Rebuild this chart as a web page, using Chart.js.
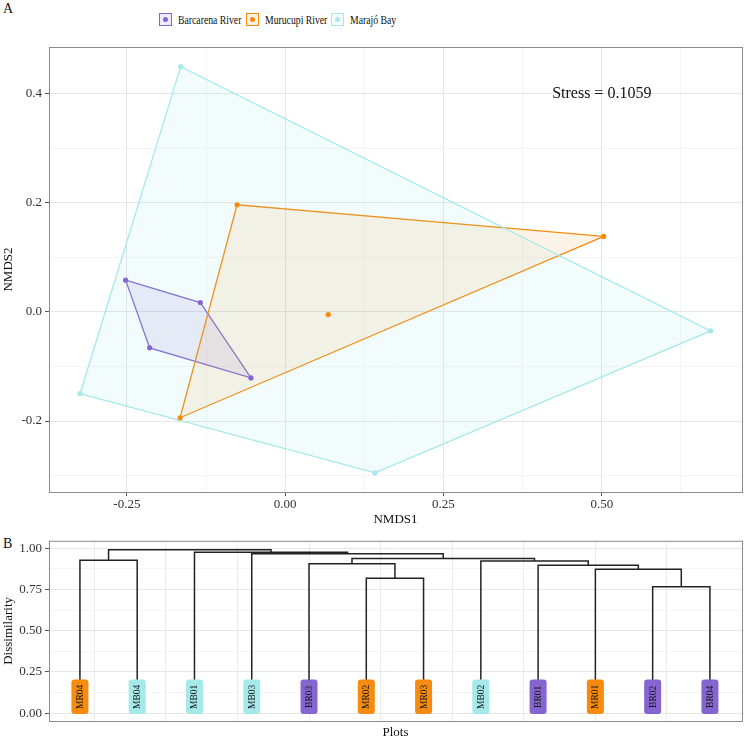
<!DOCTYPE html>
<html>
<head>
<meta charset="utf-8">
<script src="https://cdn.jsdelivr.net/npm/chart.js@4.4.1/dist/chart.umd.min.js"></script>
<style>
body { margin: 0; background: #fff; font-family: "Liberation Serif", serif; }
#wrap { position: relative; width: 746px; height: 740px; }
#chartA { position: absolute; left: 0; top: 0; }
#chartB { position: absolute; left: 0; top: 530px; }
.tag { position: absolute; font-size: 14px; color: #111; }
.key { position: absolute; top: 13px; width: 11px; height: 11px; border: 1px solid; }
.key span { position: absolute; width: 5px; height: 5px; border-radius: 50%; left: 3px; top: 3px; }
.lab { position: absolute; top: 12px; font-size: 13.5px; line-height: 16px; color: #111; white-space: nowrap; transform: scaleX(0.72); transform-origin: left center; }
</style>
</head>
<body>
<div id="wrap">
  <div class="tag" style="left:3px;top:1px">A</div>
  <div class="tag" style="left:3px;top:536px">B</div>
  <div id="legend"></div>
  <canvas id="chartA" width="746" height="530"></canvas>
  <canvas id="chartB" width="746" height="210"></canvas>
</div>
<script>
//groups and colours
const groups = ["Barcarena River", "Murucupi River", "Marajó Bay"];
const groupColors = ["#8565d0", "#f68b0f", "#a6e9ea"];
const groupFills = ["rgba(133,101,208,0.13)", "rgba(246,139,15,0.10)", "rgba(150,225,228,0.11)"];
//NMDS scores
const barcarenaX = [-0.252, -0.134, -0.214, -0.054];
const barcarenaY = [0.058, 0.017, -0.066, -0.121];
const murucupiX = [-0.076, 0.503, 0.068, -0.166];
const murucupiY = [0.196, 0.138, -0.005, -0.194];
const marajoX = [-0.165, 0.672, 0.142, -0.324];
const marajoY = [0.449, -0.035, -0.295, -0.150];
const stressText = "Stress = 0.1059";
//dendrogram (panel B), leaves in plotted order
const leafNames = ["MR04", "MB04", "MB01", "MB03", "BR03", "MR02", "MR03", "MB02", "BR01", "MR01", "BR02", "BR04"];
const mergeA = ["BR02", "MR02", "MR01", "BR01", "BR03", "MB02", "MR04", "m5", "MB03", "MB01", "m7"];
const mergeB = ["BR04", "MR03", "m1", "m3", "m2", "m4", "MB04", "m6", "m8", "m9", "m10"];
const mergeHeight = [0.767, 0.819, 0.874, 0.898, 0.907, 0.924, 0.928, 0.938, 0.968, 0.976, 0.992];
const prefixGroup = { BR: 0, MR: 1, MB: 2 };

const serif = "'Liberation Serif', serif";
Chart.defaults.font.family = serif;

//legend, positions of key boxes and labels
const keyLeft = [159, 246, 331];
const legend = document.getElementById("legend");
for (let i = 0; i < groups.length; i++) {
     const k = document.createElement("div");
     k.className = "key";
     k.style.left = keyLeft[i] + "px";
     k.style.borderColor = groupColors[i];
     k.style.background = groupFills[i];
     const dot = document.createElement("span");
     dot.style.background = groupColors[i];
     k.appendChild(dot);
     const t = document.createElement("div");
     t.className = "lab";
     t.style.left = keyLeft[i] + 19 + "px";
     t.textContent = groups[i];
     legend.appendChild(k);
     legend.appendChild(t);
}

//convex hull, monotone chain
function hull(pts) {
     const p = pts.slice().sort((a, b) => a.x - b.x || a.y - b.y);
     const cross = (o, a, b) => (a.x - o.x) * (b.y - o.y) - (a.y - o.y) * (b.x - o.x);
     const lower = [], upper = [];
     for (const q of p) {
          while (lower.length >= 2 && cross(lower[lower.length - 2], lower[lower.length - 1], q) <= 0) lower.pop();
          lower.push(q);
     }
     for (let i = p.length - 1; i >= 0; i--) {
          const q = p[i];
          while (upper.length >= 2 && cross(upper[upper.length - 2], upper[upper.length - 1], q) <= 0) upper.pop();
          upper.push(q);
     }
     upper.pop();
     lower.pop();
     const h = lower.concat(upper);
     h.push(h[0]);
     return h;
}

const xs = [barcarenaX, murucupiX, marajoX];
const ys = [barcarenaY, murucupiY, marajoY];
let dsA = [];
for (let g = 0; g < 3; g++) {
     const pts = xs[g].map((x, i) => ({ x: x, y: ys[g][i] }));
     dsA.push({
          data: hull(pts),
          borderColor: groupColors[g],
          backgroundColor: groupFills[g],
          borderWidth: 1.3,
          fill: "shape",
          pointRadius: 0,
          tension: 0,
          order: 10 - g,
     });
     dsA.push({
          data: pts,
          showLine: false,
          pointRadius: 2.6,
          pointBorderWidth: 0,
          pointBackgroundColor: groupColors[g],
          order: 1,
     });
}

const isMajor = (v, step) => Math.abs(v / step - Math.round(v / step)) < 1e-6;

const frame = {
     id: "frame",
     afterDraw(chart) {
          const a = chart.chartArea;
          const ctx = chart.ctx;
          ctx.save();
          ctx.strokeStyle = "#8c8c8c";
          ctx.lineWidth = 1;
          ctx.strokeRect(a.left + 0.5, a.top + 0.5, a.right - a.left, a.bottom - a.top);
          ctx.restore();
     },
};

const stressLabel = {
     id: "stress",
     afterDatasetsDraw(chart) {
          const ctx = chart.ctx;
          ctx.save();
          ctx.font = "16px " + serif;
          ctx.fillStyle = "#111";
          ctx.textAlign = "center";
          ctx.textBaseline = "middle";
          ctx.fillText(stressText, chart.scales.x.getPixelForValue(0.5), chart.scales.y.getPixelForValue(0.4));
          ctx.restore();
     },
};

function gridOpts(step) {
     return {
          color: (c) => (c.tick && isMajor(c.tick.value, step) ? "#e6e6e6" : "#f1f1f1"),
          lineWidth: (c) => (c.tick && isMajor(c.tick.value, step) ? 1 : 0.7),
          tickColor: (c) => (c.tick && isMajor(c.tick.value, step) ? "#555" : "rgba(0,0,0,0)"),
          tickLength: 4,
     };
}

new Chart("chartA", {
     type: "line",
     data: { datasets: dsA },
     options: {
          responsive: false,
          animation: false,
          layout: { padding: { top: 47, right: 4 } },
          plugins: { legend: { display: false }, tooltip: { enabled: false } },
          scales: {
               x: {
                    type: "linear",
                    min: -0.373,
                    max: 0.7215,
                    afterBuildTicks: (s) => {
                         s.ticks = [-0.25, -0.125, 0, 0.125, 0.25, 0.375, 0.5, 0.625].map((v) => ({ value: v }));
                    },
                    afterFit: (s) => { s.height = 38; },
                    grid: gridOpts(0.25),
                    border: { display: false },
                    ticks: {
                         autoSkip: false,
                         maxRotation: 0,
                         padding: 1,
                         color: "#333",
                         font: { family: serif, size: 13 },
                         callback: (v) => (isMajor(v, 0.25) ? v.toFixed(2) : ""),
                    },
                    title: { display: true, text: "NMDS1", color: "#111", font: { family: serif, size: 13 }, padding: { top: 0, bottom: 3 } },
               },
               y: {
                    min: -0.33,
                    max: 0.485,
                    afterBuildTicks: (s) => {
                         s.ticks = [-0.3, -0.2, -0.1, 0, 0.1, 0.2, 0.3, 0.4].map((v) => ({ value: v }));
                    },
                    afterFit: (s) => { s.width = 49; },
                    grid: gridOpts(0.2),
                    border: { display: false },
                    ticks: {
                         autoSkip: false,
                         padding: 3,
                         color: "#333",
                         font: { family: serif, size: 13 },
                         callback: (v) => (isMajor(v, 0.2) ? v.toFixed(1) : ""),
                    },
                    title: { display: true, text: "NMDS2", color: "#111", font: { family: serif, size: 13 }, padding: { top: 1, bottom: 0 } },
               },
          },
     },
     plugins: [frame, stressLabel],
});

//dendrogram segments
let nodeX = {}, nodeH = {};
leafNames.forEach((n, i) => { nodeX[n] = i + 1; nodeH[n] = 0; });
let dsB = [];
for (let i = 0; i < mergeA.length; i++) {
     const a = mergeA[i], b = mergeB[i], h = mergeHeight[i];
     dsB.push({
          data: [
               { x: nodeX[a], y: nodeH[a] },
               { x: nodeX[a], y: h },
               { x: nodeX[b], y: h },
               { x: nodeX[b], y: nodeH[b] },
          ],
          borderColor: "#222",
          borderWidth: 1.5,
          pointRadius: 0,
          fill: false,
          tension: 0,
     });
     nodeX["m" + (i + 1)] = (nodeX[a] + nodeX[b]) / 2;
     nodeH["m" + (i + 1)] = h;
}

const leafLabels = {
     id: "leafLabels",
     afterDatasetsDraw(chart) {
          const ctx = chart.ctx;
          const sx = chart.scales.x, sy = chart.scales.y;
          ctx.save();
          ctx.font = "9.5px " + serif;
          ctx.textAlign = "center";
          ctx.textBaseline = "middle";
          leafNames.forEach((n, i) => {
               const px = sx.getPixelForValue(i + 1);
               const bottom = sy.getPixelForValue(0) + 1;
               const w = 17, h = 34.5;
               ctx.fillStyle = groupColors[prefixGroup[n.substr(0, 2)]];
               ctx.beginPath();
               ctx.roundRect(px - w / 2, bottom - h, w, h, 3);
               ctx.fill();
               ctx.save();
               ctx.translate(px, bottom - h / 2);
               ctx.rotate(-Math.PI / 2);
               ctx.fillStyle = "#1a1a1a";
               ctx.fillText(n, 0, 0.5);
               ctx.restore();
          });
          ctx.restore();
     },
};

new Chart("chartB", {
     type: "line",
     data: { datasets: dsB },
     options: {
          responsive: false,
          animation: false,
          layout: { padding: { top: 8, right: 4 } },
          plugins: { legend: { display: false }, tooltip: { enabled: false } },
          scales: {
               x: {
                    type: "linear",
                    min: 0.46,
                    max: 12.56,
                    afterBuildTicks: (s) => {
                         s.ticks = [1.25, 2.5, 3.75, 5, 6.25, 7.5, 8.75, 10, 11.25].map((v) => ({ value: v }));
                    },
                    afterFit: (s) => { s.height = 19; },
                    grid: { color: "#ebebeb", drawTicks: false },
                    border: { display: false },
                    ticks: { display: false },
                    title: { display: true, text: "Plots", color: "#111", font: { family: serif, size: 13 }, padding: { top: 0, bottom: 0 } },
               },
               y: {
                    min: -0.048,
                    max: 1.046,
                    afterBuildTicks: (s) => {
                         s.ticks = [0, 0.125, 0.25, 0.375, 0.5, 0.625, 0.75, 0.875, 1].map((v) => ({ value: v }));
                    },
                    afterFit: (s) => { s.width = 49; },
                    grid: gridOpts(0.25),
                    border: { display: false },
                    ticks: {
                         autoSkip: false,
                         padding: 3,
                         color: "#333",
                         font: { family: serif, size: 13 },
                         callback: (v) => (isMajor(v, 0.25) ? v.toFixed(2) : ""),
                    },
                    title: { display: true, text: "Dissimilarity", color: "#111", font: { family: serif, size: 13 }, padding: { top: 1, bottom: 0 } },
               },
          },
     },
     plugins: [frame, leafLabels],
});
</script>
</body>
</html>
